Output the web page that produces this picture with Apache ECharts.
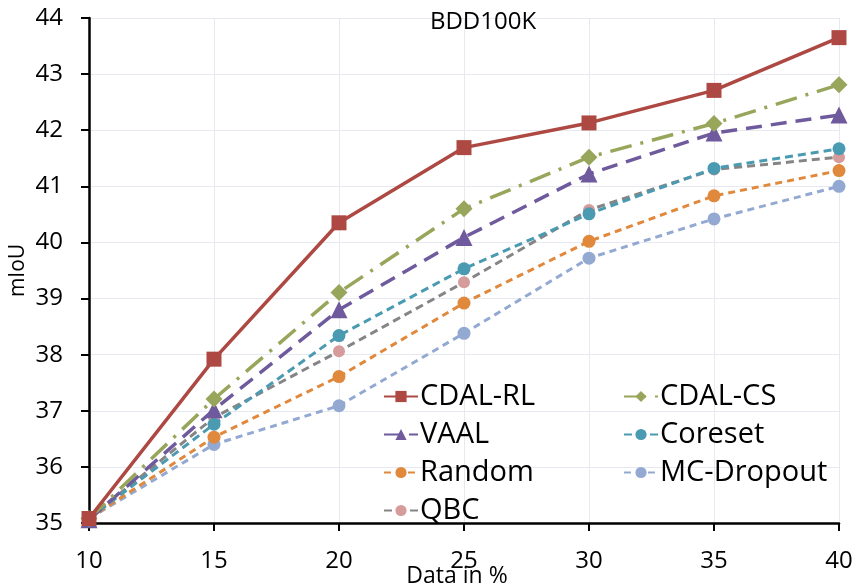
<!DOCTYPE html>
<html><head><meta charset="utf-8">
<script src="https://cdn.jsdelivr.net/npm/echarts@6/dist/echarts.min.js"></script>
<style>html,body{margin:0;padding:0;background:#fff}#c{width:858px;height:587px}</style>
</head><body><div id="c"></div>
<script>
const xValues = [10, 15, 20, 25, 30, 35, 40];
const seriesNames = ['CDAL-RL','CDAL-CS','VAAL','Coreset','Random','MC-Dropout','QBC'];
const cdalRL    = [35.08, 37.92, 40.35, 41.69, 42.13, 42.71, 43.65];
const cdalCS    = [35.08, 37.21, 39.11, 40.60, 41.52, 42.12, 42.81];
const vaal      = [35.06, 37.02, 38.80, 40.09, 41.22, 41.95, 42.27];
const coreset   = [35.08, 36.76, 38.34, 39.53, 40.51, 41.32, 41.67];
const random    = [35.08, 36.53, 37.61, 38.92, 40.02, 40.83, 41.28];
const mcDropout = [35.08, 36.40, 37.09, 38.38, 39.72, 40.42, 41.00];
const qbc       = [35.08, 36.88, 38.06, 39.29, 40.58, 41.30, 41.52];
const yTicks = [35,36,37,38,39,40,41,42,43,44];

const FONT = 'Open Sans';
const pair = v => xValues.map((x,i)=>[x,v[i]]);
function mk(name, data, color, symbol, size, dash, width, symColor, z){
  return {
    name, type:'line', data: pair(data), symbol, symbolSize: size, z,
    lineStyle:{color, width, type: dash},
    itemStyle:{color: symColor || color},
    emphasis:{disabled:true}, animation:false
  };
}
const series = [
  mk('MC-Dropout', mcDropout, '#93A9D2', 'circle', 13, [7,5], 3, null, 2),
  mk('Random', random, '#E0893D', 'circle', 13, [7,5], 3, null, 3),
  mk('QBC', qbc, '#858585', 'circle', 12, [8,5], 3, '#D69B9B', 4),
  mk('Coreset', coreset, '#4A9BB1', 'circle', 13, [8,5], 3, null, 5),
  mk('VAAL', vaal, '#6F5A9D', 'triangle', 17, [16,9], 3.5, null, 6),
  mk('CDAL-CS', cdalCS, '#97A65B', 'diamond', 17, [22,9,3,9], 3.5, null, 7),
  mk('CDAL-RL', cdalRL, '#AD4842', 'rect', 15, 'solid', 3.5, null, 8)
];
const legendCommon = {
  orient:'vertical', itemWidth:34, itemHeight:14, itemGap:9,
  textStyle:{fontFamily:FONT, fontSize:29, color:'#000', padding:[0,0,0,-3]},
  backgroundColor:'transparent', selectedMode:false
};
const chart = echarts.init(document.getElementById('c'), null, {renderer:'canvas'});
chart.setOption({
  animation:false,
  title:{text:'BDD100K', left:478, top:5, textAlign:'center',
    textStyle:{fontFamily:FONT, fontSize:24, fontWeight:'normal', color:'#000'}},
  legend:[
    Object.assign({left:378, top:377, data:['CDAL-RL','VAAL','Random','QBC']}, legendCommon),
    Object.assign({left:618, top:377, data:['CDAL-CS','Coreset','MC-Dropout']}, legendCommon)
  ],
  grid:{left:89, right:19, top:18, bottom:64, containLabel:false, outerBoundsMode:'none'},
  xAxis:{type:'value', min:10, max:40, interval:5,
    name:'Data in %', nameLocation:'middle', nameGap:42, nameMoveOverlap:false,
    nameTextStyle:{fontFamily:FONT, fontSize:23, color:'#000', padding:[0,14,0,0]},
    axisLine:{lineStyle:{color:'#000', width:2.5}},
    axisTick:{show:true, inside:false, length:8, lineStyle:{color:'#000', width:2}},
    axisLabel:{fontFamily:FONT, fontSize:24, color:'#000', margin:26},
    splitLine:{show:true, lineStyle:{color:'#E6EAF0', width:1}}},
  yAxis:{type:'value', min:35, max:44, interval:1,
    name:'mIoU', nameLocation:'middle', nameGap:60, nameRotate:90, nameMoveOverlap:false,
    nameTextStyle:{fontFamily:FONT, fontSize:21, color:'#000'},
    axisLine:{show:true, lineStyle:{color:'#000', width:2.5}},
    axisTick:{show:true, inside:false, length:8, lineStyle:{color:'#000', width:2}},
    axisLabel:{fontFamily:FONT, fontSize:24, color:'#000', margin:26,
      formatter: v => yTicks.includes(v) ? String(v) : ''},
    splitLine:{show:true, lineStyle:{color:'#E6EAF0', width:1}}},
  series
});
</script></body></html>
